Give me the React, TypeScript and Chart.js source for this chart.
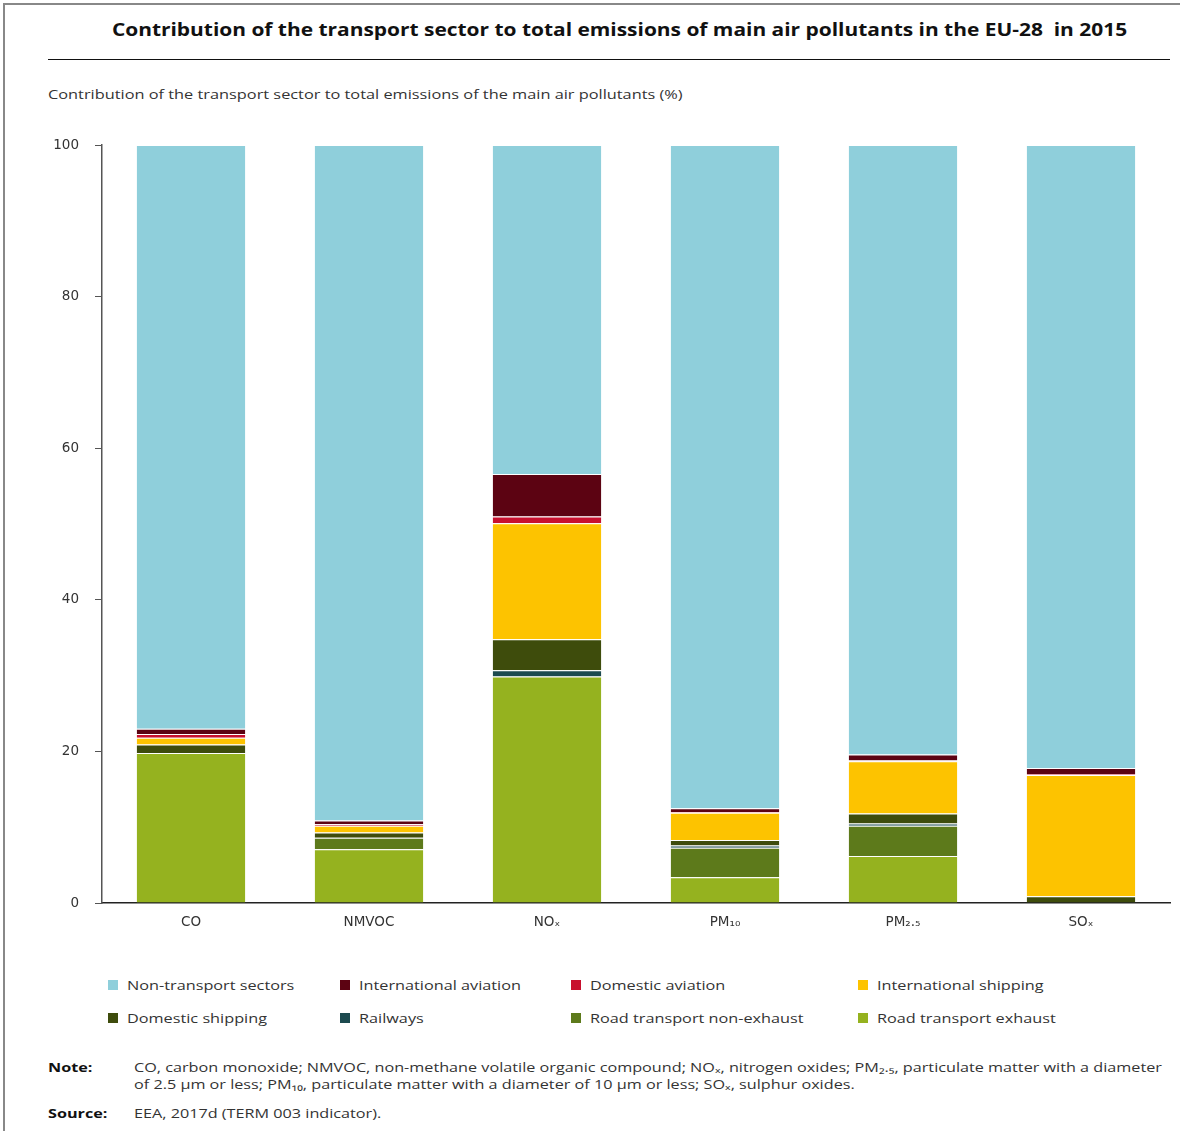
import React, { useEffect, useRef } from "react";
import { Chart, registerables } from "chart.js";

Chart.register(...registerables);

const categories = ["CO", "NMVOC", "NOₓ", "PM₁₀", "PM₂.₅", "SOₓ"];
const yTicks = [0, 20, 40, 60, 80, 100];

const roadExhaust = [19.8, 7.1, 29.9, 3.4, 6.2, 0];
const roadNonExhaust = [0, 1.5, 0, 3.9, 4.0, 0];
const railways = [0, 0, 0.8, 0.3, 0.3, 0];
const domesticShipping = [1.1, 0.7, 4.1, 0.7, 1.3, 0.9];
const internationalShipping = [0.9, 0.9, 15.3, 3.6, 6.9, 16.0];
const domesticAviation = [0.5, 0.2, 0.9, 0.1, 0.1, 0.1];
const internationalAviation = [0.7, 0.5, 5.6, 0.5, 0.8, 0.8];
const nonTransport = [77.0, 89.1, 43.4, 87.5, 80.4, 82.2];

const seriesNames = [
  "Road transport exhaust",
  "Road transport non-exhaust",
  "Railways",
  "Domestic shipping",
  "International shipping",
  "Domestic aviation",
  "International aviation",
  "Non-transport sectors",
];
const seriesColors = [
  "#95b21f",
  "#5d7a1b",
  "#1c4a4f",
  "#3e4c0c",
  "#fdc300",
  "#c8102e",
  "#5c0312",
  "#8fcfdb",
];
const seriesData = [
  roadExhaust,
  roadNonExhaust,
  railways,
  domesticShipping,
  internationalShipping,
  domesticAviation,
  internationalAviation,
  nonTransport,
];

// legend order as in the reference (two rows of four)
const legendOrder = [7, 6, 5, 4, 3, 2, 1, 0];
const legendCols = [108, 340, 571, 858];

const FONT = "'Open Sans', 'Noto Sans', sans-serif";
const AXIS_FONT = "'DejaVu Sans', 'Open Sans', sans-serif";

const stretch = (s: number, origin = "left center") => ({
  transform: `scaleX(${s})`,
  transformOrigin: origin,
});

export default function App() {
  const canvasRef = useRef<HTMLCanvasElement | null>(null);

  useEffect(() => {
    const ctx = canvasRef.current;
    if (!ctx) return;
    const chart = new Chart(ctx, {
      type: "bar",
      data: {
        labels: categories,
        datasets: seriesData.map((d, i) => ({
          label: seriesNames[i],
          data: d,
          backgroundColor: seriesColors[i],
          borderColor: "rgba(255,255,255,0.85)",
          borderWidth: { top: 1, left: 0, right: 0, bottom: 0 },
          borderSkipped: false,
          barPercentage: 0.61,
          categoryPercentage: 1,
        })),
      },
      options: {
        responsive: false,
        animation: false,
        maintainAspectRatio: false,
        layout: { padding: { top: 5, right: 10, left: 0, bottom: 0 } },
        plugins: {
          legend: { display: false },
          tooltip: { enabled: false },
          title: { display: false },
        },
        scales: {
          x: {
            stacked: true,
            grid: { display: false, drawTicks: false },
            border: { display: true, color: "#222", width: 1.5 },
            ticks: {
              color: "#333",
              padding: 11,
              font: { family: AXIS_FONT, size: 13.5 },
            },
            afterFit: (scale: any) => {
              scale.height = 37;
            },
          },
          y: {
            stacked: true,
            min: 0,
            max: 100,
            afterBuildTicks: (scale: any) => {
              scale.ticks = yTicks.map((v) => ({ value: v }));
            },
            grid: {
              display: true,
              drawOnChartArea: false,
              drawTicks: true,
              tickLength: 7,
              color: "#555",
            },
            border: { display: true, color: "#555", width: 1.5 },
            ticks: {
              color: "#333",
              padding: 16,
              font: { family: AXIS_FONT, size: 13.5 },
            },
            afterFit: (scale: any) => {
              scale.width = 102;
            },
          },
        },
      },
    });
    return () => chart.destroy();
  }, []);

  const textColor = "#333";
  const noteFont = 12;
  const noteScale = 1.35;

  return (
    <div
      style={{
        position: "absolute",
        left: 0,
        top: 0,
        width: 1180,
        height: 1131,
        background: "#fff",
        fontFamily: FONT,
        color: textColor,
        overflow: "hidden",
      }}
    >
      <div
        style={{
          position: "absolute",
          left: 3,
          top: 3,
          width: 1190,
          height: 1140,
          borderLeft: "2px solid #888",
          borderTop: "2px solid #888",
        }}
      />
      <div
        style={{
          position: "absolute",
          left: 48,
          width: 1143,
          top: 18,
          textAlign: "center",
          fontWeight: 700,
          fontSize: 17,
          color: "#111",
          whiteSpace: "pre",
          ...stretch(1.23, "center center"),
        }}
      >
        {"Contribution of the transport sector to total emissions of main air pollutants in the EU-28  in 2015"}
      </div>
      <div
        style={{
          position: "absolute",
          left: 48,
          width: 1122,
          top: 59,
          height: 0,
          borderTop: "1.5px solid #111",
        }}
      />
      <div
        style={{
          position: "absolute",
          left: 48,
          top: 86,
          fontSize: 12,
          whiteSpace: "nowrap",
          ...stretch(1.36),
        }}
      >
        Contribution of the transport sector to total emissions of the main air pollutants (%)
      </div>
      <canvas
        ref={canvasRef}
        width={1180}
        height={819}
        style={{ position: "absolute", left: 0, top: 121, width: 1180, height: 819 }}
      />
      {legendOrder.map((si, k) => {
        const row = Math.floor(k / 4);
        const col = k % 4;
        return (
          <div
            key={si}
            style={{
              position: "absolute",
              left: legendCols[col],
              top: 976 + row * 33,
              height: 18,
              display: "flex",
              alignItems: "center",
              fontSize: 13,
              whiteSpace: "nowrap",
            }}
          >
            <span
              style={{
                display: "inline-block",
                width: 10,
                height: 10,
                background: seriesColors[si],
                marginRight: 9,
              }}
            />
            <span style={{ display: "inline-block", ...stretch(1.25) }}>
              {seriesNames[si]}
            </span>
          </div>
        );
      })}
      <div
        style={{
          position: "absolute",
          left: 48,
          top: 1059,
          fontSize: noteFont,
          fontWeight: 700,
          color: "#111",
          ...stretch(noteScale),
        }}
      >
        Note:
      </div>
      <div
        style={{
          position: "absolute",
          left: 134,
          top: 1059,
          fontSize: noteFont,
          lineHeight: "17px",
          ...stretch(noteScale, "left top"),
        }}
      >
        <div style={{ whiteSpace: "nowrap" }}>
          CO, carbon monoxide; NMVOC, non-methane volatile organic compound; NOₓ, nitrogen oxides; PM₂.₅, particulate matter with a diameter
        </div>
        <div style={{ whiteSpace: "nowrap" }}>
          of 2.5 μm or less; PM₁₀, particulate matter with a diameter of 10 μm or less; SOₓ, sulphur oxides.
        </div>
      </div>
      <div
        style={{
          position: "absolute",
          left: 48,
          top: 1105,
          fontSize: noteFont,
          fontWeight: 700,
          color: "#111",
          ...stretch(noteScale),
        }}
      >
        Source:
      </div>
      <div
        style={{
          position: "absolute",
          left: 134,
          top: 1105,
          fontSize: noteFont,
          ...stretch(noteScale),
        }}
      >
        EEA, 2017d (TERM 003 indicator).
      </div>
    </div>
  );
}
